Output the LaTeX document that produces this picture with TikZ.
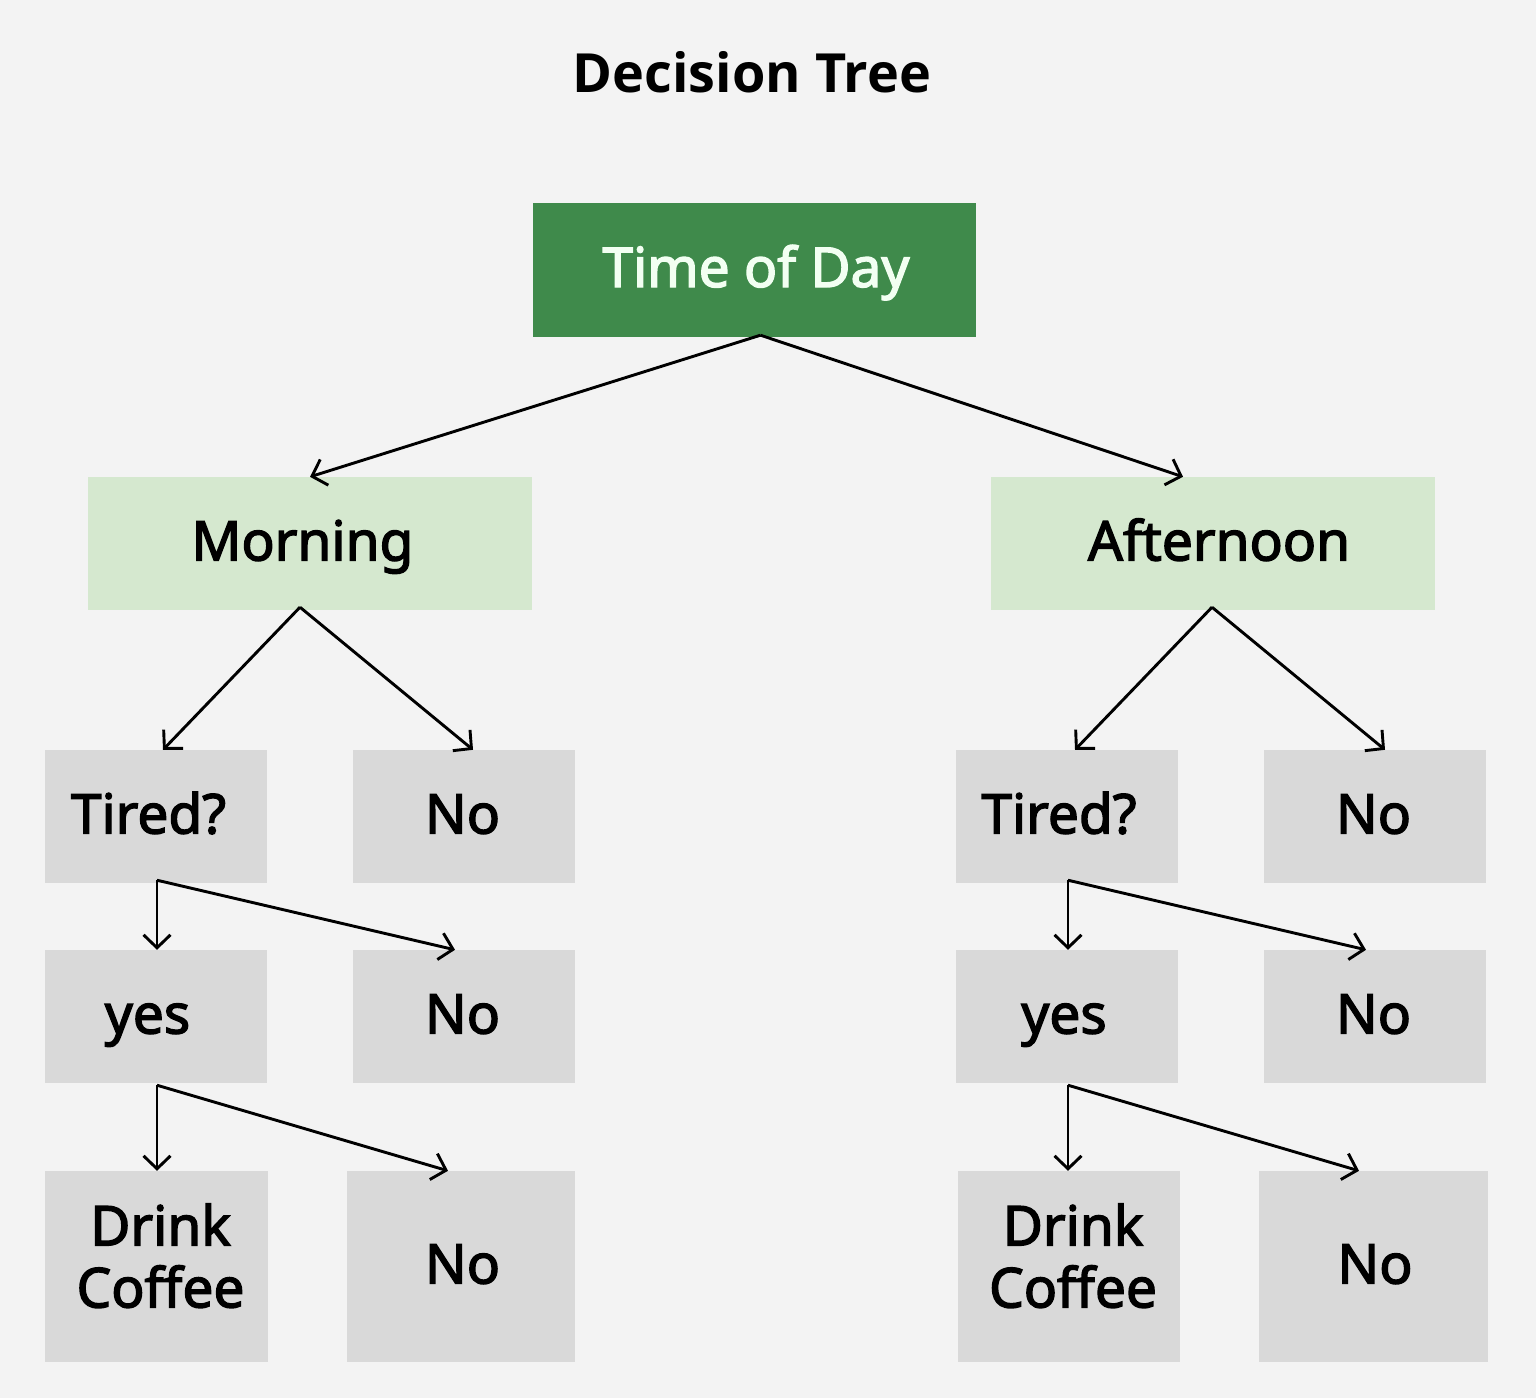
\documentclass[tikz,border=0pt]{standalone}
\usepackage{fontspec}
\setmainfont{Noto Sans}
\newfontfamily\boxfont[FakeBold=2.5]{Noto Sans}
\newfontfamily\titlefont{Open Sans}
\usetikzlibrary{arrows.meta}
\definecolor{bgc}{HTML}{F3F3F3}
\definecolor{darkg}{HTML}{3F8A4B}
\definecolor{lightg}{HTML}{D5E8CF}
\definecolor{greyb}{HTML}{D9D9D9}
\definecolor{txtw}{HTML}{F2FFF2}
\newcommand\offtxt[2]{\kern#1pt #2}
\tikzset{
  box/.style={rectangle, inner sep=0pt, align=center, font=\boxfont\fontsize{55}{62}\selectfont, text=black},
  one/.style={text height=44pt, text depth=10pt},
  root/.style={box, one, fill=darkg, text=txtw, minimum width=443pt, minimum height=134pt},
  mid/.style={box, one, fill=lightg, minimum width=444pt, minimum height=133pt},
  leaf/.style={box, one, fill=greyb, minimum width=222pt, minimum height=133pt},
  tall/.style={box, fill=greyb, minimum height=191pt},
  conn/.style={draw=black, line width=2.9pt, -{Straight Barb[length=13pt, width=27pt, line width=2.9pt]}}
}
\begin{document}
\begin{tikzpicture}[x=1pt, y=-1pt]
\fill[bgc] (0,0) rectangle (1536,1398);
\useasboundingbox (0,0) rectangle (1536,1398);

\node[anchor=base, font=\titlefont\bfseries\fontsize{54}{58}\selectfont] (title) at (752,92) {Decision Tree};

\node[root] (tod) at (754.5,270) {\offtxt{3}{Time of Day}};
\node[mid] (morn) at (310,543.5) {\offtxt{-15}{Morning}};
\node[mid] (aft) at (1213,543.5) {\offtxt{12}{Afternoon}};

% left branch
\node[leaf] (ltired) at (156,816.5) {\offtxt{-15}{Tired?}};
\node[leaf] (lno1) at (464,816.5) {\offtxt{-3}{No}};
\node[leaf] (lyes) at (156,1016.5) {\offtxt{-17}{yes}};
\node[leaf] (lno2) at (464,1016.5) {\offtxt{-3}{No}};
\node[tall, minimum width=223pt] (ldrink) at (156.5,1266.5) {\offtxt{8}{Drink}\\\offtxt{8}{Coffee}\rule[-22pt]{0pt}{22pt}};
\node[tall, one, minimum width=228pt] (lno3) at (461,1266.5) {\offtxt{3}{No}};

% right branch
\node[leaf] (rtired) at (1066.5,816.5) {\offtxt{-15}{Tired?}};
\node[leaf] (rno1) at (1375,816.5) {\offtxt{-3}{No}};
\node[leaf] (ryes) at (1066.5,1016.5) {\offtxt{-5}{yes}};
\node[leaf] (rno2) at (1375,1016.5) {\offtxt{-3}{No}};
\node[tall, minimum width=222pt] (rdrink) at (1069,1266.5) {\offtxt{8}{Drink}\\\offtxt{8}{Coffee}\rule[-22pt]{0pt}{22pt}};
\node[tall, one, minimum width=229pt] (rno3) at (1373.5,1266.5) {\offtxt{3}{No}};

% connectors
\draw[conn] ([xshift=6pt,yshift=2pt]tod.south) -- (morn.north);
\draw[conn] ([xshift=6pt,yshift=2pt]tod.south) -- ([xshift=-30pt]aft.north);

\draw[conn] ([xshift=-10pt,yshift=3pt]morn.south) -- ([xshift=7pt]ltired.north);
\draw[conn] ([xshift=-10pt,yshift=3pt]morn.south) -- ([xshift=9pt]lno1.north);
\draw[conn] ([xshift=-1pt,yshift=3pt]aft.south) -- ([xshift=8.5pt]rtired.north);
\draw[conn] ([xshift=-1pt,yshift=3pt]aft.south) -- ([xshift=10pt]rno1.north);

\draw[conn] ([xshift=1pt,yshift=3pt]ltired.south) -- ([xshift=1pt]lyes.north);
\draw[conn] ([xshift=1pt,yshift=3pt]ltired.south) -- ([xshift=-9pt]lno2.north);
\draw[conn] ([xshift=1pt,yshift=-2pt]lyes.south) -- ([xshift=0.5pt]ldrink.north);
\draw[conn] ([xshift=1pt,yshift=-2pt]lyes.south) -- ([xshift=-13pt]lno3.north);

\draw[conn] ([xshift=1.5pt,yshift=3pt]rtired.south) -- ([xshift=1.5pt]ryes.north);
\draw[conn] ([xshift=1.5pt,yshift=3pt]rtired.south) -- ([xshift=-9pt]rno2.north);
\draw[conn] ([xshift=1.5pt,yshift=-2pt]ryes.south) -- ([xshift=-1pt]rdrink.north);
\draw[conn] ([xshift=1.5pt,yshift=-2pt]ryes.south) -- ([xshift=-14.5pt]rno3.north);
\end{tikzpicture}
\end{document}
